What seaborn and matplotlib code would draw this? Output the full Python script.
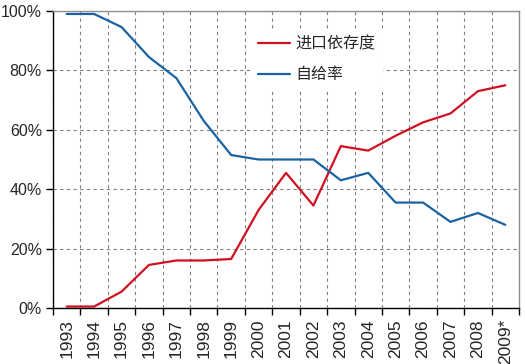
import matplotlib
matplotlib.use("Agg")
import matplotlib.pyplot as plt
import matplotlib.ticker as mticker
import numpy as np
import pandas as pd
import seaborn as sns

# 数据
years = ['1993', '1994', '1995', '1996', '1997', '1998', '1999', '2000', '2001',
         '2002', '2003', '2004', '2005', '2006', '2007', '2008', '2009*']
import_dep = [0.5, 0.5, 5.5, 14.5, 16, 16, 16.5, 33, 45.5, 34.5, 54.5, 53, 58, 62.5, 65.5, 73, 75]
self_suff = [99, 99, 94.6, 84.5, 77.4, 63, 51.5, 50, 50, 50, 43, 45.5, 35.5, 35.5, 29, 32, 28]
names = ['进口依存度', '自给率']
colors = ['#d01020', '#1a62a4']

x = np.arange(len(years))
data = pd.concat([
    pd.DataFrame({'x': x, 'y': import_dep, 'label': names[0]}),
    pd.DataFrame({'x': x, 'y': self_suff, 'label': names[1]}),
])

sns.set_theme(style='white')
plt.rcParams['font.family'] = ['Liberation Sans', 'Noto Sans CJK SC', 'DejaVu Sans']

fig = plt.figure(figsize=(5.25, 3.64), dpi=100)
ax = fig.add_axes([53 / 525, 56 / 364, 466 / 525, 297 / 364])

sns.lineplot(data=data, x='x', y='y', hue='label', hue_order=names,
             palette=colors, linewidth=1.6, ax=ax)

ax.set_xlim(-0.5, len(years) - 0.5)
ax.set_ylim(0, 100)
ax.set_xlabel('')
ax.set_ylabel('')

# 刻度：主刻度放标签，次刻度画网格
ax.set_xticks(x)
ax.set_xticklabels(years, rotation=90, fontsize=12.5)
ax.set_xticks(np.arange(-0.5, len(years), 1), minor=True)
ax.tick_params(axis='x', which='major', length=0, pad=8)
ax.tick_params(axis='x', which='minor', length=5, width=1, color='black', direction='out', bottom=True)
ax.set_yticks(np.arange(0, 101, 20))
ax.yaxis.set_major_formatter(mticker.FuncFormatter(lambda v, p: f'{int(v)}%'))
ax.tick_params(axis='y', length=5, width=1, color='black', direction='out', left=True, labelsize=11.5, pad=3)

ax.grid(False)
ax.grid(True, axis='x', which='minor', color='#808080', linestyle=(0, (3, 3)), linewidth=0.8)
ax.grid(True, axis='y', which='major', color='#808080', linestyle=(0, (3, 3)), linewidth=0.8)
ax.set_axisbelow(True)

for side in ['left', 'bottom']:
    ax.spines[side].set_color('black')
    ax.spines[side].set_linewidth(1)
for side in ['top', 'right']:
    ax.spines[side].set_color('#909090')
    ax.spines[side].set_linewidth(1)

ax.legend(loc='upper left', bbox_to_anchor=(0.41, 0.965), frameon=True,
          framealpha=1, edgecolor='white', fancybox=False,
          handlelength=2.0, handletextpad=0.3, labelspacing=0.85,
          prop={'family': ['Noto Sans CJK SC'], 'size': 11.5})

fig.savefig('out.png', dpi=100)
